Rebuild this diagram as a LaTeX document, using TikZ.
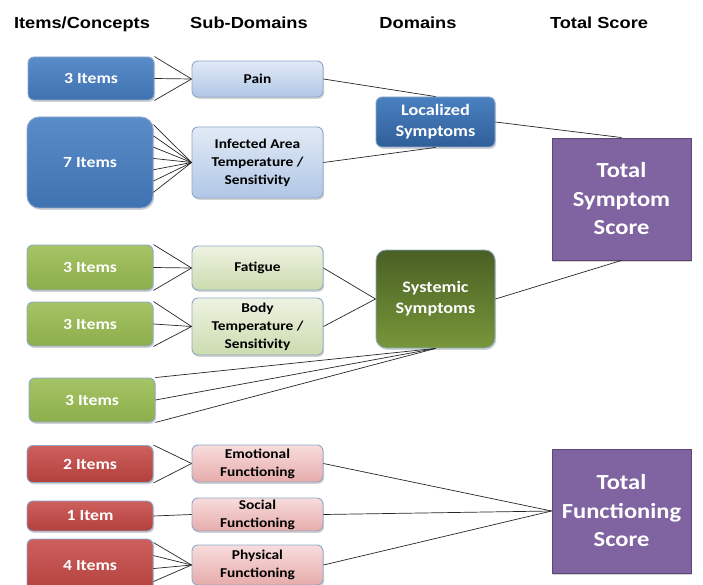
\documentclass[tikz,border=0pt]{standalone}
\usepackage{fontspec}
\usetikzlibrary{calc,shadows}

\newfontfamily\boxfont{Carlito}[FakeStretch=1.14]
\newfontfamily\headfont{Liberation Sans}[FakeStretch=1.14]

\definecolor{edgeblue}{HTML}{8EA9CC}
\definecolor{blueTop}{HTML}{5A8CC9}
\definecolor{blueBot}{HTML}{3F72B0}
\definecolor{lblueTop}{HTML}{E2EAF6}
\definecolor{lblueBot}{HTML}{B0C7E6}
\definecolor{locTop}{HTML}{4A80C0}
\definecolor{locBot}{HTML}{2F5F99}
\definecolor{greenTop}{HTML}{A5C465}
\definecolor{greenBot}{HTML}{8DAE4B}
\definecolor{lgreenTop}{HTML}{EEF3E2}
\definecolor{lgreenBot}{HTML}{CCDBAF}
\definecolor{sysTop}{HTML}{4A5F24}
\definecolor{sysBot}{HTML}{77973A}
\definecolor{redTop}{HTML}{CD5F5C}
\definecolor{redBot}{HTML}{B3413E}
\definecolor{lredTop}{HTML}{F8DCDC}
\definecolor{lredBot}{HTML}{E6ACAB}
\definecolor{scoreFill}{HTML}{8064A2}
\definecolor{scoreEdge}{HTML}{5C4776}

\tikzset{
  box/.style={draw=edgeblue, line width=0.9pt, rounded corners=6pt, inner sep=1pt, align=center,
    drop shadow={opacity=0.35, shadow xshift=1.2pt, shadow yshift=-1.8pt}},
  item/.style={box, minimum width=126pt, text=white,
    font=\boxfont\bfseries\fontsize{15.5}{18}\selectfont},
  subdom/.style={box, minimum width=131pt, text=black,
    font=\boxfont\bfseries\fontsize{13.5}{18}\selectfont},
  dombox/.style={box, minimum width=119pt, text=white,
    font=\boxfont\bfseries\fontsize{16}{21}\selectfont},
  total/.style={draw=scoreEdge, line width=0.9pt, fill=scoreFill, minimum width=139pt, text=white,
    align=center, inner sep=1pt, drop shadow={opacity=0.35, shadow xshift=1.2pt, shadow yshift=-1.8pt},
    font=\boxfont\bfseries\fontsize{21.5}{28.5}\selectfont},
  blueitem/.style={item, top color=blueTop, bottom color=blueBot},
  greenitem/.style={item, top color=greenTop, bottom color=greenBot},
  reditem/.style={item, top color=redTop, bottom color=redBot},
  bluesub/.style={subdom, top color=lblueTop, bottom color=lblueBot},
  greensub/.style={subdom, top color=lgreenTop, bottom color=lgreenBot},
  redsub/.style={subdom, top color=lredTop, bottom color=lredBot},
  head/.style={anchor=base, font=\headfont\bfseries\fontsize{16}{19}\selectfont},
  link/.style={draw=black!85, line width=0.7pt}
}

\begin{document}
\begin{tikzpicture}[x=1pt, y=-1pt]
  \useasboundingbox (0,0) rectangle (703,585);

  % column titles
  \node[head] (hitems) at (82,28.5) {Items/Concepts};
  \node[head] (hsub) at (249,28.5) {Sub-Domains};
  \node[head] (hdom) at (418,28.5) {Domains};
  \node[head] (htotal) at (599,28.5) {Total Score};

  % items / concepts
  \node[blueitem, minimum height=43pt] (i1) at (91,78.5) {3 Items};
  \node[blueitem, minimum height=91pt, rounded corners=12pt] (i2) at (90,162.5) {7 Items};
  \node[greenitem, minimum height=45pt] (i3) at (90,267.5) {3 Items};
  \node[greenitem, minimum height=44pt] (i4) at (90,324) {3 Items};
  \node[greenitem, minimum height=44pt] (i5) at (92,400) {3 Items};
  \node[reditem, minimum height=37pt] (i6) at (90,464) {2 Items};
  \node[reditem, minimum height=30pt] (i7) at (90,516) {1 Item};
  \node[reditem, minimum height=54pt] (i8) at (90,566) {4 Items};

  % sub-domains
  \node[bluesub, minimum height=36pt] (pain) at (257.5,79) {Pain};
  \node[bluesub, minimum height=71pt] (infect) at (257.5,162.5) {Infected Area\\Temperature /\\Sensitivity};
  \node[greensub, minimum height=44pt] (fatigue) at (257.5,268) {Fatigue};
  \node[greensub, minimum height=57pt] (bodytemp) at (257.5,326.5) {Body\\Temperature /\\Sensitivity};
  \node[redsub, minimum height=37pt] (emot) at (257.5,463.5) {Emotional\\Functioning};
  \node[redsub, minimum height=33pt] (social) at (257.5,514.5) {Social\\Functioning};
  \node[redsub, minimum height=40pt] (phys) at (257.5,565) {Physical\\Functioning};

  % domains
  \node[dombox, minimum height=50pt, top color=locTop, bottom color=locBot] (local) at (435.5,122) {Localized\\Symptoms};
  \node[dombox, minimum height=98pt, rounded corners=10pt, top color=sysTop, bottom color=sysBot] (system) at (435.5,299) {Systemic\\Symptoms};

  % total scores
  \node[total, minimum height=122pt] (tss) at (621.5,199) {Total\\Symptom\\Score};
  \node[total, minimum height=124pt] (tfs) at (621.5,511) {Total\\Functioning\\Score};

  % items to sub-domains
  \foreach \a in {north east,east,south east} {
    \draw[link] (i1.\a) -- (pain.west);
    \draw[link] (i3.\a) -- (fatigue.west);
    \draw[link] (i4.\a) -- (bodytemp.west);
    \draw[link] (i5.\a) -- (system.south);
  }
  \foreach \k in {0,...,6}
    \draw[link] ($(i2.north east)+(0,8+11.3*\k)$) -- (infect.west);
  \draw[link] (i6.north east) -- (emot.west);
  \draw[link] (i6.south east) -- (emot.west);
  \draw[link] (i7.east) -- (social.west);
  \foreach \k in {0,...,3}
    \draw[link] ($(i8.north east)+(0,4+13*\k)$) -- (phys.west);

  % sub-domains to domains and totals
  \draw[link] (pain.east) -- (local.north);
  \draw[link] (infect.east) -- (local.south);
  \draw[link] (fatigue.east) -- (system.west);
  \draw[link] (bodytemp.east) -- (system.west);
  \draw[link] (local.east) -- (tss.north);
  \draw[link] (system.east) -- (tss.south);
  \draw[link] (emot.east) -- (tfs.west);
  \draw[link] (social.east) -- (tfs.west);
  \draw[link] (phys.east) -- (tfs.west);
\end{tikzpicture}
\end{document}
